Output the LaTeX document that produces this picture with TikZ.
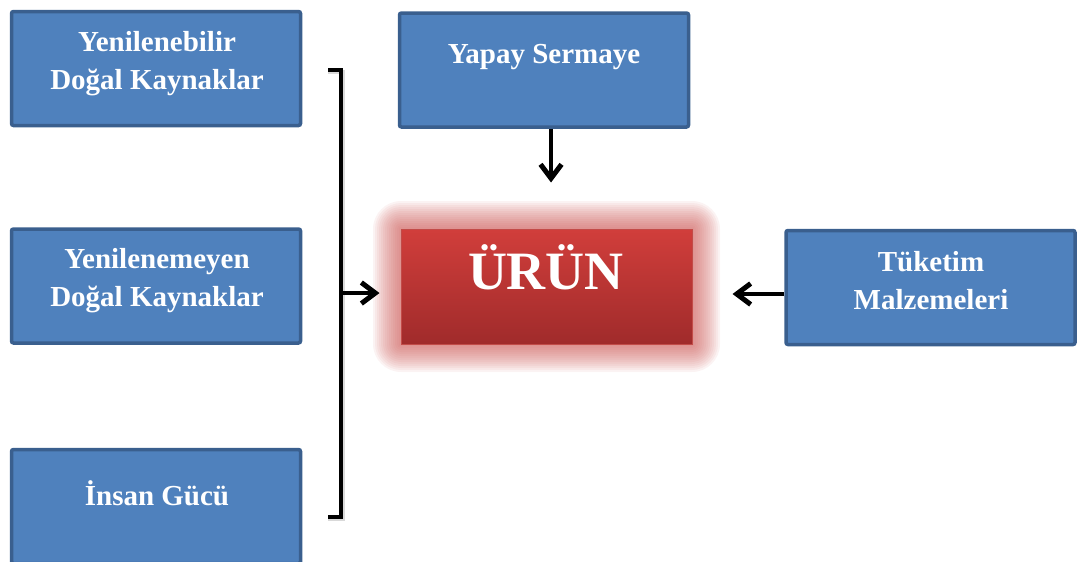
\documentclass[tikz,border=0pt]{standalone}
\usepackage{fontspec}
\setmainfont{Liberation Serif}
\usetikzlibrary{arrows.meta,calc}
\definecolor{boxfill}{HTML}{4F81BD}
\definecolor{boxline}{HTML}{3A5F8E}
\definecolor{redtop}{HTML}{D13E3B}
\definecolor{redbot}{HTML}{A02B2B}
\definecolor{redline}{HTML}{C24B48}
\definecolor{glow}{HTML}{C9504D}
\begin{document}
\begin{tikzpicture}[x=1pt,y=-1pt,
  bluebox/.style={draw=boxline, line width=3.5pt, fill=boxfill, rounded corners=2pt,
    minimum width=289pt, minimum height=114pt, inner sep=0pt},
  lbl/.style={text=white, font=\bfseries\fontsize{29}{38}\selectfont, align=center},
  arr/.style={line width=4.5pt, -{Straight Barb[length=14pt,width=21pt,line width=5pt]}},
  brk/.style={line width=4.5pt, line cap=butt, line join=miter},
  shade/.style={line width=4.5pt, draw=black, opacity=0.15},
]
\useasboundingbox (0,0) rectangle (1079,562);
\clip (0,0) rectangle (1079,562);

% soft red halo round the product box
\foreach \r in {2,4,...,28}
  \fill[glow, opacity=0.065, rounded corners=\r pt]
    (401-\r,229-\r) rectangle (692+\r,344+\r);

% boxes
\node[bluebox] (ren)  at (156,68.5) {};
\node[bluebox] (nren) at (156,286) {};
\node[bluebox] (ins)  at (156,506.5) {};
\node[bluebox] (yap)  at (544,70) {};
\node[bluebox] (tuk)  at (930.5,287.5) {};
\node[draw=redline, line width=1pt, top color=redtop, bottom color=redbot,
      minimum width=291pt, minimum height=115pt, inner sep=0pt] (urun) at (546.5,286.5) {};

% labels
\node[lbl] (tren)  at (157,63.5) {Yenilenebilir\\Doğal Kaynaklar};
\node[lbl] (tnren) at (157,280.5) {Yenilenemeyen\\Doğal Kaynaklar};
\node[lbl] (tins)  at (157,493) {İnsan Gücü};
\node[lbl] (tyap)  at (544,57)  {Yapay Sermaye};
\node[lbl] (ttuk)  at (931,281) {Tüketim\\Malzemeleri};
\node[text=white, font=\bfseries\fontsize{54}{60}\selectfont] (turun) at (546,267) {ÜRÜN};

% bracket gathering the three resources
\coordinate (btop) at (341,70);
\coordinate (bbot) at (341,517);
\coordinate (bmid) at (341,293);
\draw[shade] ([xshift=-13pt,yshift=-2pt]btop) -- ([xshift=2pt,yshift=-2pt]btop)
  -- ([xshift=2pt,yshift=-2pt]bbot) -- ([xshift=-13pt,yshift=-2pt]bbot);
\draw[brk] ([xshift=-13pt]btop) -- (btop) -- (bbot) -- ([xshift=-13pt]bbot);

% arrows into the product
\draw[arr, shorten >=21pt] (bmid) -- (bmid -| urun.west);
\draw[arr, shorten >=46pt] ([xshift=7pt]yap.south) -- ([xshift=7pt]yap.south |- urun.north);
\draw[arr, shorten >=40pt] ([yshift=-6.5pt]tuk.west) -- ([yshift=-6.5pt]tuk.west -| urun.east);
\end{tikzpicture}
\end{document}
